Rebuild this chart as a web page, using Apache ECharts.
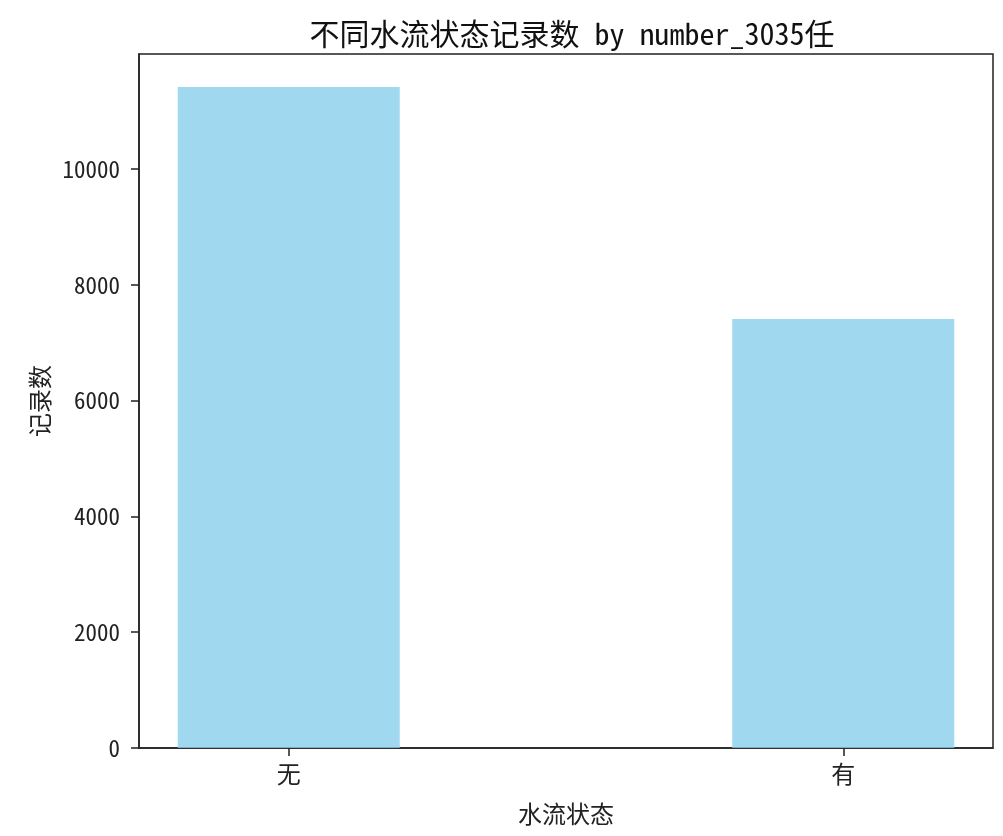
<!DOCTYPE html>
<html>
<head>
<meta charset="utf-8">
<script src="https://cdn.jsdelivr.net/npm/echarts@6/dist/echarts.min.js"></script>
<style>html,body{margin:0;padding:0;background:#fff}#c{width:1003px;height:836px}</style>
</head>
<body>
<div id="c"></div>
<script>
const categories = ['无', '有'];
const counts = [11420, 7410];
const yTicks = [0, 2000, 4000, 6000, 8000, 10000];
const titleText = '不同水流状态记录数 by number_3035任';
const xName = '水流状态';
const yName = '记录数';

const FONT = '"Noto Sans Mono CJK SC", "Noto Sans CJK SC", sans-serif';
const positions = categories.map((c, i) => i);
const chart = echarts.init(document.getElementById('c'), null, {renderer: 'canvas'});
chart.setOption({
  animation: false,
  backgroundColor: '#fff',
  title: {
    text: titleText,
    left: 567, top: 14, textAlign: 'center',
    textStyle: {fontFamily: FONT, fontSize: 30, fontWeight: 'normal', color: '#111'}
  },
  grid: {left: 139, right: 10, top: 54, bottom: 88, show: true, borderColor: '#222', borderWidth: 1.5, backgroundColor: 'transparent'},
  xAxis: {
    type: 'value', min: -0.27, max: 1.27,
    name: xName, nameLocation: 'middle', nameGap: 54,
    nameTextStyle: {fontFamily: FONT, fontSize: 24, color: '#222'},
    splitLine: {show: false},
    axisLine: {show: true, onZero: false, lineStyle: {color: '#222', width: 1.5}},
    axisTick: {show: true, customValues: positions, length: 8, lineStyle: {color: '#222', width: 1.5}},
    axisLabel: {customValues: positions, margin: 14, fontFamily: FONT, fontSize: 24, color: '#222',
      formatter: v => categories[Math.round(v)] ?? ''}
  },
  yAxis: {
    type: 'value', min: 0, max: 11990,
    name: yName, nameLocation: 'middle', nameGap: 78, nameRotate: 90,
    nameTextStyle: {fontFamily: FONT, fontSize: 24, color: '#222'},
    splitLine: {show: false},
    axisLine: {show: true, onZero: false, lineStyle: {color: '#222', width: 1.5}},
    axisTick: {show: true, customValues: yTicks, length: 8, lineStyle: {color: '#222', width: 1.5}},
    axisLabel: {customValues: yTicks, margin: 19, fontFamily: FONT, fontSize: 23, color: '#222',
      formatter: v => String(v)}
  },
  series: [{
    type: 'bar',
    data: positions.map((p, i) => [p, counts[i]]),
    barWidth: 222,
    itemStyle: {color: 'rgba(135,206,235,0.8)'}
  }]
});
</script>
</body>
</html>
